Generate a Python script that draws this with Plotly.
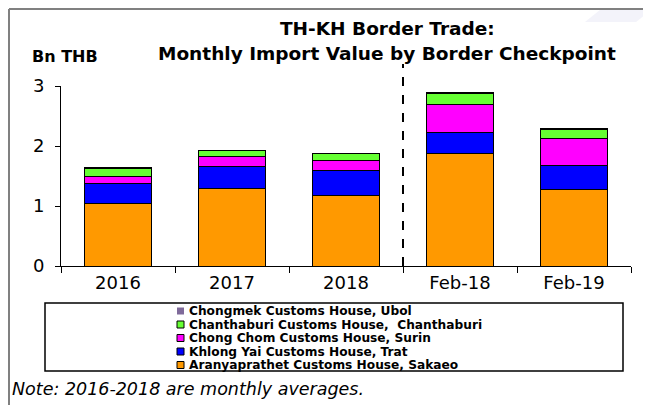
import plotly.graph_objects as go

categories = ["2016", "2017", "2018", "Feb-18", "Feb-19"]
aranyaprathet = [1.05, 1.29, 1.18, 1.87, 1.28]
khlong_yai = [0.33, 0.365, 0.42, 0.36, 0.40]
chong_chom = [0.12, 0.17, 0.16, 0.46, 0.45]
chanthaburi = [0.13, 0.10, 0.11, 0.19, 0.15]
chongmek = [0.01, 0.005, 0.005, 0.01, 0.01]

series_names = [
    "Aranyaprathet Customs House, Sakaeo",
    "Khlong Yai Customs House, Trat",
    "Chong Chom Customs House, Surin",
    "Chanthaburi Customs House,  Chanthaburi",
    "Chongmek Customs House, Ubol",
]
series_values = [aranyaprathet, khlong_yai, chong_chom, chanthaburi, chongmek]
series_colors = ["#FF9900", "#0000FF", "#FF00FF", "#66FF33", "#7F6A9A"]

# page body has an 8px margin; work in window pixels and convert
OFF = 8
W, H = 651 - OFF, 405 - OFF
L, R, T, B = 61, 631, 86, 266  # plot area in window pixels


def px(x):
    return (x - L) / (R - L)


def py(y):
    return (B - y) / (B - T)


FONT = "DejaVu Sans"

fig = go.Figure()
for name, vals, col in zip(series_names, series_values, series_colors):
    fig.add_trace(go.Bar(
        x=categories, y=vals, name=name,
        marker=dict(color=col, line=dict(color="#000000", width=1)),
        showlegend=False,
    ))

shapes = []
annotations = []

# dashed divider
shapes.append(dict(type="line", xref="paper", yref="paper",
                   x0=0.6, x1=0.6, y0=0, y1=py(64),
                   line=dict(color="#000000", width=2, dash="dash")))

# outer border (top and left)
shapes.append(dict(type="line", xref="paper", yref="paper",
                   x0=px(9), x1=px(651), y0=py(9), y1=py(9),
                   line=dict(color="#808080", width=2)))
shapes.append(dict(type="line", xref="paper", yref="paper",
                   x0=px(9), x1=px(9), y0=py(9), y1=py(405),
                   line=dict(color="#808080", width=2)))
# faint decoration top-right
shapes.append(dict(type="path", xref="paper", yref="paper",
                   path="M {} {} L {} {} L {} {} L {} {} Z".format(
                       px(600), py(10), px(651), py(10), px(636), py(22), px(585), py(22)),
                   fillcolor="rgba(232,232,246,0.5)", line=dict(width=0), layer="below"))

# legend box
shapes.append(dict(type="rect", xref="paper", yref="paper",
                   x0=px(45), x1=px(623), y0=py(303), y1=py(371),
                   line=dict(color="#000000", width=1.5), fillcolor="#FFFFFF"))

legend_rows = [311, 324.5, 338, 351.5, 365]
legend_order = list(range(len(series_names)))[::-1]
for row_y, idx in zip(legend_rows, legend_order):
    shapes.append(dict(type="rect", xref="paper", yref="paper",
                       x0=px(177), x1=px(184), y0=py(row_y - 3.5), y1=py(row_y + 3.5),
                       line=dict(color="#000000", width=1) if idx != 4 else dict(width=0),
                       fillcolor=series_colors[idx]))
    annotations.append(dict(xref="paper", yref="paper", x=px(187), y=py(row_y),
                            xanchor="left", yanchor="middle", showarrow=False,
                            text="<b>" + series_names[idx].replace("  ", "&nbsp; ") + "</b>",
                            font=dict(family=FONT, size=12.2, color="#000000")))

annotations.append(dict(xref="paper", yref="paper", x=px(387), y=py(28),
                        xanchor="center", yanchor="middle", showarrow=False,
                        text="<b>TH-KH Border Trade:</b>",
                        font=dict(family=FONT, size=18.5, color="#000000")))
annotations.append(dict(xref="paper", yref="paper", x=px(387), y=py(53),
                        xanchor="center", yanchor="middle", showarrow=False,
                        text="<b>Monthly Import Value by Border Checkpoint</b>",
                        font=dict(family=FONT, size=18.5, color="#000000")))
annotations.append(dict(xref="paper", yref="paper", x=px(30), y=py(57),
                        xanchor="left", yanchor="middle", showarrow=False,
                        text="<b>Bn THB</b>",
                        font=dict(family=FONT, size=16, color="#000000")))
annotations.append(dict(xref="paper", yref="paper", x=px(10), y=py(389),
                        xanchor="left", yanchor="middle", showarrow=False,
                        text="<i>Note: 2016-2018 are monthly averages.</i>",
                        font=dict(family=FONT, size=17.5, color="#000000")))

fig.update_layout(
    width=W, height=H,
    margin=dict(l=L - OFF, r=W - (R - OFF), t=T - OFF, b=H - (B - OFF), pad=0),
    barmode="stack", bargap=0.42,
    paper_bgcolor="#FFFFFF", plot_bgcolor="#FFFFFF",
    showlegend=False,
    shapes=shapes, annotations=annotations,
    font=dict(family=FONT, color="#000000"),
    xaxis=dict(range=[-0.5, 4.5], showline=True, linecolor="#000000", linewidth=1,
               ticks="outside", tickson="boundaries", ticklen=6, tickcolor="#000000",
               showgrid=False, zeroline=False,
               tickfont=dict(family=FONT, size=18, color="#000000")),
    yaxis=dict(range=[0, 3], showline=True, linecolor="#000000", linewidth=1,
               ticks="outside", ticklen=5, tickcolor="#000000", dtick=1,
               showgrid=False, zeroline=False, ticklabelstandoff=7,
               tickfont=dict(family=FONT, size=18, color="#000000")),
)

fig.write_html("out.html")
